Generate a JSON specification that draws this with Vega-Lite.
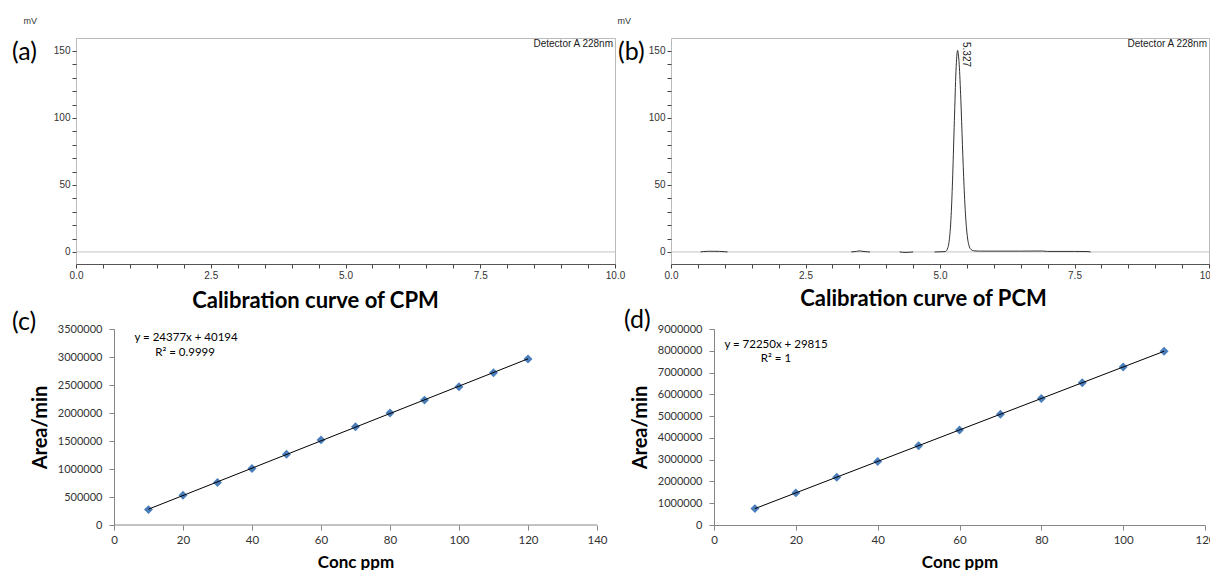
{
 "$schema": "https://vega.github.io/schema/vega-lite/v6.json",
 "background": "white",
 "padding": {"left": 11, "top": 15, "right": 0, "bottom": 0},
 "config": {"view": {"stroke": null}, "axis": {"grid": false}},
 "datasets": {
  "traceB": [
   {"seg": 1, "t": 0.55, "mv": 0}, {"seg": 1, "t": 0.6, "mv": 0.3}, {"seg": 1, "t": 0.7, "mv": 0.5}, {"seg": 1, "t": 0.8, "mv": 0.5}, {"seg": 1, "t": 0.9, "mv": 0.4}, {"seg": 1, "t": 1.0, "mv": 0.2}, {"seg": 1, "t": 1.05, "mv": 0},
   {"seg": 2, "t": 3.35, "mv": 0}, {"seg": 2, "t": 3.45, "mv": 0.4}, {"seg": 2, "t": 3.5, "mv": 0.8}, {"seg": 2, "t": 3.55, "mv": 0.5}, {"seg": 2, "t": 3.65, "mv": 0.1}, {"seg": 2, "t": 3.7, "mv": 0},
   {"seg": 3, "t": 4.25, "mv": 0}, {"seg": 3, "t": 4.35, "mv": -0.4}, {"seg": 3, "t": 4.45, "mv": -0.2}, {"seg": 3, "t": 4.5, "mv": 0},
   {"seg": 4, "t": 4.9, "mv": 0}, {"seg": 4, "t": 5.1, "mv": 0.3}, {"seg": 4, "t": 5.147, "mv": 3.3}, {"seg": 4, "t": 5.177, "mv": 10.5}, {"seg": 4, "t": 5.207, "mv": 27}, {"seg": 4, "t": 5.237, "mv": 58}, {"seg": 4, "t": 5.267, "mv": 98}, {"seg": 4, "t": 5.297, "mv": 135}, {"seg": 4, "t": 5.312, "mv": 146}, {"seg": 4, "t": 5.327, "mv": 150.5}, {"seg": 4, "t": 5.342, "mv": 147}, {"seg": 4, "t": 5.357, "mv": 140}, {"seg": 4, "t": 5.387, "mv": 114}, {"seg": 4, "t": 5.417, "mv": 80}, {"seg": 4, "t": 5.447, "mv": 49}, {"seg": 4, "t": 5.477, "mv": 26}, {"seg": 4, "t": 5.507, "mv": 12}, {"seg": 4, "t": 5.537, "mv": 5}, {"seg": 4, "t": 5.577, "mv": 1.8}, {"seg": 4, "t": 5.627, "mv": 0.9}, {"seg": 4, "t": 5.75, "mv": 0.6}, {"seg": 4, "t": 6.0, "mv": 0.6}, {"seg": 4, "t": 6.5, "mv": 0.6}, {"seg": 4, "t": 6.9, "mv": 0.7}, {"seg": 4, "t": 7.0, "mv": 0.4}, {"seg": 4, "t": 7.5, "mv": 0.4}, {"seg": 4, "t": 7.75, "mv": 0.3}, {"seg": 4, "t": 7.8, "mv": 0}
  ],
  "cpm": [
   {"conc": 10, "area": 275000}, {"conc": 20, "area": 530000}, {"conc": 30, "area": 760000}, {"conc": 40, "area": 1010000}, {"conc": 50, "area": 1265000}, {"conc": 60, "area": 1520000}, {"conc": 70, "area": 1755000}, {"conc": 80, "area": 2000000}, {"conc": 90, "area": 2230000}, {"conc": 100, "area": 2470000}, {"conc": 110, "area": 2720000}, {"conc": 120, "area": 2965000}
  ],
  "pcm": [
   {"conc": 10, "area": 752000}, {"conc": 20, "area": 1475000}, {"conc": 30, "area": 2197000}, {"conc": 40, "area": 2920000}, {"conc": 50, "area": 3642000}, {"conc": 60, "area": 4365000}, {"conc": 70, "area": 5087000}, {"conc": 80, "area": 5810000}, {"conc": 90, "area": 6532000}, {"conc": 100, "area": 7255000}, {"conc": 110, "area": 7977000}
  ]
 },
 "spacing": 7,
 "vconcat": [
  {
   "spacing": -10,
   "hconcat": [
    {
     "width": 539, "height": 226,
     "view": {"stroke": "#bbbbbb"},
     "data": {"values": [{}]},
     "layer": [
      {"mark": {"type": "rule", "color": "#c4c4c4", "strokeWidth": 1},
       "encoding": {
        "x": {"datum": 0, "type": "quantitative", "scale": {"domain": [0, 10], "nice": false, "zero": false},
              "axis": {"values": [0,0.5,1,1.5,2,2.5,3,3.5,4,4.5,5,5.5,6,6.5,7,7.5,8,8.5,9,9.5,10], "tickCount": 100, "labelExpr": "datum.value % 2.5 === 0 ? format(datum.value, '.1f') : ''", "title": null, "labelFont": "Liberation Sans", "labelFontSize": 10, "labelColor": "#333", "labelPadding": 2, "tickSize": 4, "tickColor": "#444", "domainColor": "#555", "labelOverlap": false, "labelFlush": false, "grid": false}},
        "x2": {"datum": 10},
        "y": {"datum": 0, "type": "quantitative", "scale": {"domain": [-9, 159.7], "nice": false, "zero": false},
              "axis": {"values": [0,10,20,30,40,50,60,70,80,90,100,110,120,130,140,150], "tickCount": 100, "labelExpr": "datum.value % 50 === 0 ? format(datum.value, 'd') : ''", "title": "mV", "titleAngle": 0, "titleAlign": "left", "titleBaseline": "middle", "titleX": -53, "titleY": -18, "titleFont": "Liberation Sans", "titleFontSize": 9, "titleFontWeight": "normal", "titleColor": "#333", "labelFont": "Liberation Sans", "labelFontSize": 10, "labelColor": "#333", "labelPadding": 2, "tickSize": 4, "tickColor": "#444", "domain": false, "labelOverlap": false, "grid": false}}
       }},
      {"mark": {"type": "text", "text": "Detector A 228nm", "align": "right", "baseline": "middle", "dx": -2, "font": "Liberation Sans", "fontSize": 10, "color": "#1a1a1a"},
       "encoding": {"x": {"datum": 10, "type": "quantitative"}, "y": {"datum": 155.2, "type": "quantitative"}}},
      {"mark": {"type": "text", "text": "(a)", "align": "left", "baseline": "middle", "font": "Lato", "fontSize": 25, "color": "#000"},
       "encoding": {"x": {"datum": -1.187, "type": "quantitative"}, "y": {"datum": 149.3, "type": "quantitative"}}}
     ]
    },
    {
     "width": 538, "height": 226,
     "view": {"stroke": "#bbbbbb"},
     "data": {"values": [{}]},
     "layer": [
      {"mark": {"type": "rule", "color": "#c4c4c4", "strokeWidth": 1},
       "encoding": {
        "x": {"datum": 0, "type": "quantitative", "scale": {"domain": [0, 10], "nice": false, "zero": false},
              "axis": {"values": [0,0.5,1,1.5,2,2.5,3,3.5,4,4.5,5,5.5,6,6.5,7,7.5,8,8.5,9,9.5,10], "tickCount": 100, "labelExpr": "datum.value % 2.5 === 0 ? format(datum.value, '.1f') : ''", "title": null, "labelFont": "Liberation Sans", "labelFontSize": 10, "labelColor": "#333", "labelPadding": 2, "tickSize": 4, "tickColor": "#444", "domainColor": "#555", "labelOverlap": false, "labelFlush": false, "grid": false}},
        "x2": {"datum": 10},
        "y": {"datum": 0, "type": "quantitative", "scale": {"domain": [-9, 159.7], "nice": false, "zero": false},
              "axis": {"values": [0,10,20,30,40,50,60,70,80,90,100,110,120,130,140,150], "tickCount": 100, "labelExpr": "datum.value % 50 === 0 ? format(datum.value, 'd') : ''", "title": "mV", "titleAngle": 0, "titleAlign": "left", "titleBaseline": "middle", "titleX": -54, "titleY": -18, "titleFont": "Liberation Sans", "titleFontSize": 9, "titleFontWeight": "normal", "titleColor": "#333", "labelFont": "Liberation Sans", "labelFontSize": 10, "labelColor": "#333", "labelPadding": 2, "tickSize": 4, "tickColor": "#444", "domain": false, "labelOverlap": false, "grid": false}}
       }},
      {"data": {"name": "traceB"},
       "mark": {"type": "line", "color": "#333", "strokeWidth": 1, "interpolate": "monotone", "clip": true},
       "encoding": {"x": {"field": "t", "type": "quantitative"}, "y": {"field": "mv", "type": "quantitative"}, "detail": {"field": "seg"}}},
      {"mark": {"type": "text", "text": "5.327", "align": "left", "baseline": "middle", "angle": 90, "font": "Liberation Sans", "fontSize": 10, "color": "#1a1a1a"},
       "encoding": {"x": {"datum": 5.483, "type": "quantitative"}, "y": {"datum": 156.7, "type": "quantitative"}}},
      {"mark": {"type": "text", "text": "Detector A 228nm", "align": "right", "baseline": "middle", "dx": -2, "font": "Liberation Sans", "fontSize": 10, "color": "#1a1a1a"},
       "encoding": {"x": {"datum": 10, "type": "quantitative"}, "y": {"datum": 155.2, "type": "quantitative"}}},
      {"mark": {"type": "text", "text": "(b)", "align": "left", "baseline": "middle", "font": "Lato", "fontSize": 25, "color": "#000"},
       "encoding": {"x": {"datum": -0.985, "type": "quantitative"}, "y": {"datum": 149.3, "type": "quantitative"}}}
     ]
    }
   ]
  },
  {
   "spacing": 15,
   "hconcat": [
    {
     "width": 521, "height": 196,
     "title": {"text": "Calibration curve of CPM", "font": "Lato", "fontSize": 22, "fontWeight": "bold", "color": "#000", "anchor": "middle", "frame": "bounds", "offset": -3, "dx": 6},
     "data": {"name": "cpm"},
     "layer": [
      {"data": {"values": [{}]},
       "mark": {"type": "rule", "color": "#868686", "strokeWidth": 1},
       "encoding": {"x": {"datum": 0, "type": "quantitative"}, "x2": {"datum": 140}, "y": {"datum": 0, "type": "quantitative"}}},
      {"mark": {"type": "point", "shape": "diamond", "filled": true, "size": 80, "color": "#4a7ebb", "opacity": 1},
       "encoding": {
        "x": {"field": "conc", "type": "quantitative", "scale": {"domain": [-11.01, 140], "nice": false, "zero": false},
              "axis": {"values": [0,20,40,60,80,100,120,140], "tickCount": 100, "domain": false, "title": "Conc ppm", "titleX": 279.5, "titleFont": "Lato", "titleFontSize": 17, "titleFontWeight": "bold", "titleColor": "#000", "titlePadding": 9, "labelFont": "Lato", "labelFontSize": 11.5, "labelColor": "#333", "labelPadding": 4, "tickSize": 5, "tickColor": "#868686", "labelFlush": false, "labelOverlap": false}},
        "y": {"field": "area", "type": "quantitative", "scale": {"domain": [0, 3500000], "nice": false},
              "axis": {"values": [0,500000,1000000,1500000,2000000,2500000,3000000,3500000], "tickCount": 100, "offset": -38, "format": "d", "title": "Area/min", "titleFont": "Lato", "titleFontSize": 20, "titleFontWeight": "bold", "titleColor": "#000", "titlePadding": 7, "labelFont": "Lato", "labelFontSize": 11, "labelColor": "#333", "labelPadding": 7, "tickSize": 5, "tickColor": "#868686", "domainColor": "#868686", "labelOverlap": false}}
       }},
      {"transform": [{"regression": "area", "on": "conc"}],
       "mark": {"type": "line", "color": "#000", "strokeWidth": 1},
       "encoding": {"x": {"field": "conc", "type": "quantitative"}, "y": {"field": "area", "type": "quantitative"}}},
      {"data": {"values": [{}]},
       "mark": {"type": "text", "text": "y = 24377x + 40194", "align": "center", "baseline": "middle", "font": "Lato", "fontSize": 11.5, "color": "#000"},
       "encoding": {"x": {"datum": 20.9, "type": "quantitative"}, "y": {"datum": 3340000, "type": "quantitative"}}},
      {"data": {"values": [{}]},
       "mark": {"type": "text", "text": "R² = 0.9999", "align": "center", "baseline": "middle", "font": "Lato", "fontSize": 11.5, "color": "#000"},
       "encoding": {"x": {"datum": 20.6, "type": "quantitative"}, "y": {"datum": 3066000, "type": "quantitative"}}},
      {"data": {"values": [{}]},
       "mark": {"type": "text", "text": "(c)", "align": "left", "baseline": "middle", "font": "Lato", "fontSize": 25, "color": "#000"},
       "encoding": {"x": {"datum": -29.57, "type": "quantitative"}, "y": {"datum": 3625000, "type": "quantitative"}}}
     ]
    },
    {
     "width": 491, "height": 196,
     "title": {"text": "Calibration curve of PCM", "font": "Lato", "fontSize": 22, "fontWeight": "bold", "color": "#000", "anchor": "middle", "frame": "bounds", "offset": -3, "dx": 4},
     "data": {"name": "pcm"},
     "layer": [
      {"mark": {"type": "point", "shape": "diamond", "filled": true, "size": 80, "color": "#4a7ebb", "opacity": 1},
       "encoding": {
        "x": {"field": "conc", "type": "quantitative", "scale": {"domain": [0, 120], "nice": false, "zero": false},
              "axis": {"values": [0,20,40,60,80,100,120], "tickCount": 100, "title": "Conc ppm", "titleFont": "Lato", "titleFontSize": 17, "titleFontWeight": "bold", "titleColor": "#000", "titlePadding": 9, "labelFont": "Lato", "labelFontSize": 11.5, "labelColor": "#333", "labelPadding": 4, "tickSize": 5, "tickColor": "#868686", "domainColor": "#868686", "labelFlush": false, "labelOverlap": false}},
        "y": {"field": "area", "type": "quantitative", "scale": {"domain": [0, 9000000], "nice": false},
              "axis": {"values": [0,1000000,2000000,3000000,4000000,5000000,6000000,7000000,8000000,9000000], "tickCount": 100, "format": "d", "title": "Area/min", "titleFont": "Lato", "titleFontSize": 20, "titleFontWeight": "bold", "titleColor": "#000", "titlePadding": 7, "labelFont": "Lato", "labelFontSize": 11, "labelColor": "#333", "labelPadding": 7, "tickSize": 5, "tickColor": "#868686", "domainColor": "#868686", "labelOverlap": false}}
       }},
      {"transform": [{"regression": "area", "on": "conc"}],
       "mark": {"type": "line", "color": "#000", "strokeWidth": 1},
       "encoding": {"x": {"field": "conc", "type": "quantitative"}, "y": {"field": "area", "type": "quantitative"}}},
      {"data": {"values": [{}]},
       "mark": {"type": "text", "text": "y = 72250x + 29815", "align": "center", "baseline": "middle", "font": "Lato", "fontSize": 11.5, "color": "#000"},
       "encoding": {"x": {"datum": 15.15, "type": "quantitative"}, "y": {"datum": 8280000, "type": "quantitative"}}},
      {"data": {"values": [{}]},
       "mark": {"type": "text", "text": "R² = 1", "align": "center", "baseline": "middle", "font": "Lato", "fontSize": 11.5, "color": "#000"},
       "encoding": {"x": {"datum": 15.15, "type": "quantitative"}, "y": {"datum": 7620000, "type": "quantitative"}}},
      {"data": {"values": [{}]},
       "mark": {"type": "text", "text": "(d)", "align": "left", "baseline": "middle", "font": "Lato", "fontSize": 25, "color": "#000"},
       "encoding": {"x": {"datum": -22.0, "type": "quantitative"}, "y": {"datum": 9410000, "type": "quantitative"}}}
     ]
    }
   ]
  }
 ]
}
